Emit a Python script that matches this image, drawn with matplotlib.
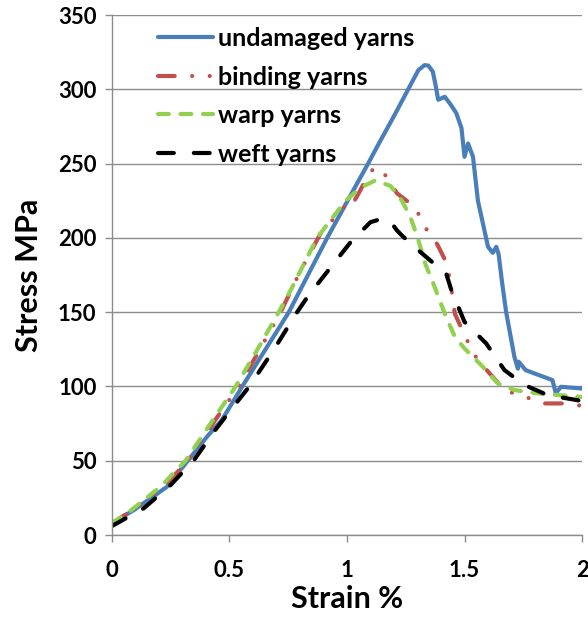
import numpy as np
import matplotlib
matplotlib.use("Agg")
import matplotlib.pyplot as plt

# --- data ---
undamaged_x = [0, 0.094, 0.235, 0.32, 0.404, 0.468, 0.555, 0.65, 0.753, 0.80, 0.916, 1.02,
               1.09, 1.134, 1.2, 1.304, 1.33, 1.346, 1.365, 1.378, 1.388, 1.416, 1.44, 1.465,
               1.487, 1.50, 1.515, 1.536, 1.557, 1.6, 1.62, 1.635, 1.645, 1.66, 1.677, 1.712,
               1.727, 1.73, 1.76, 1.797, 1.874, 1.888, 1.91, 1.994, 2.0]
undamaged_y = [7.9, 16.8, 32.5, 49.3, 66, 77.4, 100, 124, 150, 164.5, 200, 230,
               250, 263, 282, 313, 316.3, 316, 312, 302, 293, 295, 290, 284,
               274, 254.6, 263.6, 254.6, 225, 194, 190, 194, 189, 169.6, 150, 120,
               112, 116.7, 111, 108.8, 104.3, 95.4, 99.8, 98.7, 98.5]

binding_x = [0, 0.09, 0.22, 0.325, 0.44, 0.54, 0.63, 0.718, 0.80, 0.888, 0.95, 0.986, 1.01,
             1.05, 1.086, 1.11, 1.13, 1.16, 1.213, 1.29, 1.333, 1.383, 1.425, 1.444, 1.459,
             1.50, 1.543, 1.60, 1.656, 1.69, 1.76, 1.83, 1.917, 2.0]
binding_y = [7.9, 16.8, 32.5, 50, 77.4, 100, 125, 150, 177, 203, 214, 220.7, 219,
             230, 241, 246, 247.7, 243, 230, 220.7, 207, 196, 182.7, 166, 149,
             134.6, 121, 110, 100, 96.4, 93, 88.6, 88.6, 87]

warp_x = [0, 0.077, 0.207, 0.314, 0.43, 0.527, 0.62, 0.71, 0.76, 0.873, 0.994, 1.06, 1.12,
          1.185, 1.234, 1.27, 1.30, 1.333, 1.368, 1.416, 1.459, 1.50, 1.571, 1.642, 1.712,
          1.81, 1.994, 2.0]
warp_y = [7.9, 16, 32.5, 50, 77.4, 100, 125, 150, 164.5, 200, 225, 234, 238.7,
          235, 225, 214, 200.5, 182.7, 169, 149, 133.4, 125.6, 114.4, 102, 97.6,
          95.4, 93, 93]

weft_x = [0, 0.136, 0.25, 0.35, 0.44, 0.51, 0.585, 0.69, 0.788, 0.831, 0.853, 0.93, 1.015,
          1.10, 1.149, 1.19, 1.213, 1.234, 1.305, 1.383, 1.42, 1.444, 1.50, 1.592, 1.67,
          1.755, 1.853, 1.98, 2.0]
weft_y = [6, 18, 33.6, 50.5, 70.7, 85, 100, 125, 150, 160, 164.5, 180, 197,
          210.6, 212.9, 210, 205, 201.6, 191.5, 181, 177, 164.9, 143.5, 129, 111,
          101, 94.2, 90.8, 90]

labels = ["undamaged yarns", "binding yarns", "warp yarns", "weft yarns"]

FONT = "Lato"

fig = plt.figure(figsize=(5.88, 6.28), dpi=100)
ax = fig.add_axes([0.190, 0.148, 0.800, 0.828])

lw = 3.0
ax.plot(undamaged_x, undamaged_y, color="#4A7EBB", lw=lw, solid_capstyle="round",
        solid_joinstyle="round", label=labels[0])
ax.plot(binding_x, binding_y, color="#C0504D", lw=lw, dash_capstyle="round",
        linestyle=(0, (4.0, 4.2, 0.01, 4.2, 0.01, 4.2)), label=labels[1])
ax.plot(warp_x, warp_y, color="#92D050", lw=lw, dash_capstyle="round",
        linestyle=(0, (2.6, 2.8)), label=labels[2])
ax.plot(weft_x, weft_y, color="black", lw=lw, dash_capstyle="round",
        linestyle=(0, (3.8, 4.8)), label=labels[3])

ax.set_xlim(0, 2)
ax.set_ylim(0, 350)
ax.set_xticks([0, 0.5, 1, 1.5, 2])
ax.set_xticklabels(["0", "0.5", "1", "1.5", "2"])
ax.set_yticks(range(0, 351, 50))

ax.yaxis.grid(True, color="#8C8C8C", lw=1)
ax.set_axisbelow(True)
for side in ["top", "right"]:
    ax.spines[side].set_visible(False)
for side in ["left", "bottom"]:
    ax.spines[side].set_color("#8C8C8C")
    ax.spines[side].set_linewidth(1)
ax.tick_params(axis="both", direction="out", length=5, width=1, color="#8C8C8C",
               labelsize=16, pad=6)
for lab in ax.get_xticklabels() + ax.get_yticklabels():
    lab.set_fontfamily(FONT)
    lab.set_fontweight("bold")
ax.tick_params(axis="x", pad=13)

ax.set_xlabel("Strain %", fontsize=22, fontweight="bold", family=FONT, labelpad=3)
ax.set_ylabel("Stress MPa", fontsize=22, fontweight="bold", family=FONT, labelpad=11)

leg = ax.legend(loc="upper left", bbox_to_anchor=(0.05, 1.02), frameon=False,
                handlelength=2.2, handletextpad=0.22, labelspacing=0.62,
                prop={"family": FONT, "weight": "bold", "size": 18})

fig.savefig("out.png", dpi=100)
